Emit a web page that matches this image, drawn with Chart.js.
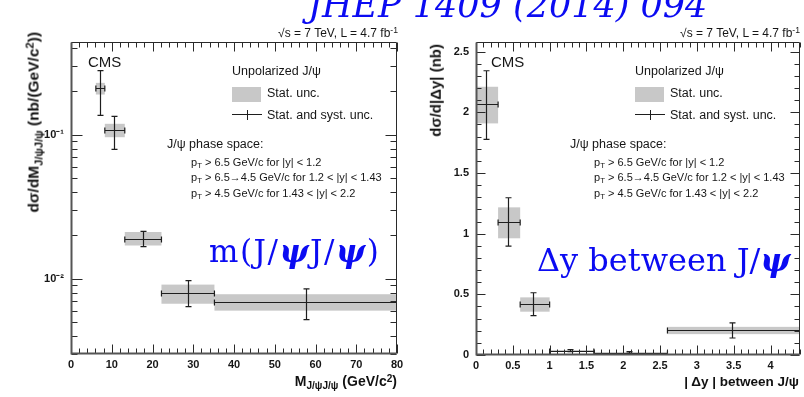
<!DOCTYPE html>
<html>
<head>
<meta charset="utf-8">
<script src="https://cdn.jsdelivr.net/npm/chart.js@4/dist/chart.umd.min.js"></script>
<style>
  body { margin: 0; background: #fff; }
  #page { position: relative; width: 804px; height: 397px; overflow: hidden; background: #fff;
          font-family: "Liberation Sans", Arial, sans-serif; color: #161616; }
  canvas { position: absolute; top: 0; }
  .t { position: absolute; white-space: nowrap; line-height: 1; }
  .t sub, .t sup { font-size: 72%; line-height: 0; position: relative; vertical-align: baseline; }
  .t sup { top: -0.45em; }
  .t sub { top: 0.32em; }
  .axis { font-weight: bold; color: #111; }
  .blue { font-family: "DejaVu Serif", "Liberation Serif", serif; color: #0b0bf2; }
  .ytitle { position: absolute; width: 0; height: 0; }
  .ytitle span { position: absolute; right: 0; top: -8px; line-height: 16px; white-space: nowrap;
                 transform-origin: 100% 50%; transform: rotate(-90deg); }
  .box { position: absolute; background: #c8c8c8; }
  .bar { position: absolute; background: #1e1e1e; }
</style>
</head>
<body>
<div id="page">
  <canvas id="massChart" width="410" height="397" style="left:0"></canvas>
  <canvas id="dyChart" width="402" height="397" style="left:402px"></canvas>
</div>
<script>
// ---- d(sigma)/dM for the J/psi pair (log scale), bins in GeV/c^2
const massLo      = [6.1, 8.3, 13.2, 22.2, 35.2];
const massHi      = [8.3, 13.2, 22.2, 35.2, 80];
const massCenter  = [7.1, 10.6, 17.6, 28.6, 57.6];
const massXsec    = [0.21, 0.107, 0.019, 0.0080, 0.0069];
const massStatLo  = [0.19, 0.096, 0.017, 0.0067, 0.0060];
const massStatHi  = [0.229, 0.119, 0.0211, 0.0091, 0.0078];
const massTotLo   = [0.136, 0.079, 0.0167, 0.0064, 0.0052];
const massTotHi   = [0.278, 0.134, 0.0213, 0.0097, 0.0085];
const massXLabels = [0, 10, 20, 30, 40, 50, 60, 70, 80];
const massYMajor  = [0.01, 0.1];
const massYText   = ['10\u207B\u00B2', '10\u207B\u00B9'];

// ---- d(sigma)/d|dy| between the two J/psi, in nb
const dyLo     = [0, 0.3, 0.6, 1.0, 1.6, 2.6];
const dyHi     = [0.3, 0.6, 1.0, 1.6, 2.6, 4.4];
const dyCenter = [0.13, 0.43, 0.78, 1.28, 2.08, 3.48];
const dyXsec   = [2.066, 1.094, 0.418, 0.036, 0.02, 0.205];
const dyStatLo = [1.909, 0.962, 0.357, 0.031, 0.016, 0.172];
const dyStatHi = [2.211, 1.217, 0.475, 0.041, 0.024, 0.232];
const dyTotLo  = [1.778, 0.898, 0.324, 0.028, 0.013, 0.14];
const dyTotHi  = [2.343, 1.296, 0.513, 0.044, 0.027, 0.265];
const dyXLabels = ['0', '0.5', '1', '1.5', '2', '2.5', '3', '3.5', '4'];
const dyYLabels = ['0', '0.5', '1', '1.5', '2', '2.5'];

// minor tick positions
const massXTicks = Array.from({ length: 41 }, (_, i) => i * 2);
const massYTicks = [];
[3, 4, 5, 6, 7, 8, 9].forEach(k => massYTicks.push(k / 1000));
[1, 2, 3, 4, 5, 6, 7, 8, 9].forEach(k => massYTicks.push(k / 100));
[1, 2, 3, 4].forEach(k => massYTicks.push(k / 10));
const dyXTicks = Array.from({ length: 45 }, (_, i) => i / 10);
const dyYTicks = Array.from({ length: 26 }, (_, i) => i / 10);

function makeBins(lo, hi, cx, val, sLo, sHi, tLo, tHi) {
  return cx.map((c, i) => ({ x: c, y: val[i], lo: lo[i], hi: hi[i],
    statLo: sLo[i], statHi: sHi[i], totLo: tLo[i], totHi: tHi[i] }));
}

//.. grey stat boxes + crosses with end caps
const errorBins = {
  id: 'errorBins',
  afterDatasetsDraw(chart) {
    const { ctx, chartArea: a } = chart;
    const x = chart.scales.x, y = chart.scales.y;
    const pts = chart.data.datasets[0].data;
    ctx.save();
    ctx.beginPath();
    ctx.rect(a.left, a.top, a.right - a.left, a.bottom - a.top);
    ctx.clip();
    ctx.fillStyle = '#c8c8c8';
    pts.forEach(p => {
      const x0 = x.getPixelForValue(p.lo), x1 = x.getPixelForValue(p.hi);
      const y0 = y.getPixelForValue(p.statHi), y1 = y.getPixelForValue(p.statLo);
      ctx.fillRect(x0, y0, x1 - x0, y1 - y0);
    });
    ctx.strokeStyle = '#1e1e1e';
    ctx.lineWidth = 1.2;
    ctx.beginPath();
    pts.forEach(p => {
      const cx = Math.round(x.getPixelForValue(p.x)) + 0.5;
      const cy = Math.round(y.getPixelForValue(p.y)) + 0.5;
      const x0 = x.getPixelForValue(p.lo), x1 = x.getPixelForValue(p.hi);
      const yt = y.getPixelForValue(p.totHi), yb = y.getPixelForValue(p.totLo);
      ctx.moveTo(x0, cy); ctx.lineTo(x1, cy);
      ctx.moveTo(x0, cy - 3); ctx.lineTo(x0, cy + 3);
      ctx.moveTo(x1, cy - 3); ctx.lineTo(x1, cy + 3);
      ctx.moveTo(cx, yt); ctx.lineTo(cx, yb);
      ctx.moveTo(cx - 3, yt); ctx.lineTo(cx + 3, yt);
      ctx.moveTo(cx - 3, yb); ctx.lineTo(cx + 3, yb);
    });
    ctx.stroke();
    ctx.restore();
  }
};

//.. ROOT style frame, ticks pointing inwards on all four sides
const rootFrame = {
  id: 'rootFrame',
  afterDraw(chart, args, opts) {
    const { ctx, chartArea: a } = chart;
    const x = chart.scales.x, y = chart.scales.y;
    const L = Math.round(a.left) + 0.5, R = Math.round(a.right) - 0.5;
    const T = Math.round(a.top) + 0.5, B = Math.round(a.bottom) - 0.5;
    ctx.save();
    ctx.strokeStyle = '#2a2a2a';
    ctx.lineWidth = 1;
    ctx.beginPath();
    x.ticks.forEach(t => {
      const px = Math.round(x.getPixelForValue(t.value)) + 0.5;
      const len = t.label ? opts.xMajor : opts.xMinor;
      ctx.moveTo(px, B); ctx.lineTo(px, B - len);
      ctx.moveTo(px, T); ctx.lineTo(px, T + len);
    });
    y.ticks.forEach(t => {
      const py = Math.round(y.getPixelForValue(t.value)) + 0.5;
      const len = t.label ? opts.yMajor : opts.yMinor;
      ctx.moveTo(L, py); ctx.lineTo(L + len, py);
      ctx.moveTo(R, py); ctx.lineTo(R - len, py);
    });
    ctx.moveTo(L, T); ctx.lineTo(R, T); ctx.lineTo(R, B);
    ctx.stroke();
    // left and bottom axes a bit heavier
    ctx.strokeStyle = '#555';
    ctx.lineWidth = 2;
    ctx.beginPath();
    ctx.moveTo(L, T); ctx.lineTo(L, B); ctx.lineTo(R, B);
    ctx.stroke();
    ctx.restore();
  }
};

const tickFont = { family: 'Liberation Sans', size: 11, weight: 'bold' };

function axisBase(extra) {
  return Object.assign({
    grid: { display: false, drawTicks: false },
    border: { display: false }
  }, extra);
}

function histChart(id, bins, cfg) {
  return new Chart(document.getElementById(id), {
    type: 'scatter',
    data: { datasets: [{ data: bins, pointRadius: 0, showLine: false }] },
    options: {
      responsive: false,
      animation: false,
      layout: { padding: { top: 42, right: cfg.padRight, left: 0, bottom: 0 } },
      plugins: {
        legend: { display: false },
        tooltip: { enabled: false },
        rootFrame: cfg.tickLen
      },
      scales: {
        x: axisBase({
          type: 'linear', min: cfg.xMin, max: cfg.xMax,
          afterBuildTicks: s => { s.ticks = cfg.xTicks.map(v => ({ value: v })); },
          ticks: { autoSkip: false, maxRotation: 0, padding: 4, font: tickFont, color: '#161616',
                   callback: cfg.xLabel },
          afterFit: s => { s.height = cfg.xHeight; s.paddingLeft = 0; s.paddingRight = 0; }
        }),
        y: axisBase({
          type: cfg.yType, min: cfg.yMin, max: cfg.yMax,
          afterBuildTicks: s => { s.ticks = cfg.yTicks.map(v => ({ value: v })); },
          ticks: { autoSkip: false, padding: 7, font: tickFont, color: '#161616',
                   callback: cfg.yLabel },
          afterFit: s => { s.width = cfg.yWidth; s.paddingTop = 0; s.paddingBottom = 0; }
        })
      }
    },
    plugins: [errorBins, rootFrame]
  });
}

histChart('massChart',
  makeBins(massLo, massHi, massCenter, massXsec, massStatLo, massStatHi, massTotLo, massTotHi), {
  padRight: 13, xHeight: 43, yWidth: 71,
  xMin: 0, xMax: 80, xTicks: massXTicks,
  xLabel: v => massXLabels.includes(v) ? String(v) : '',
  yType: 'logarithmic', yMin: 0.003, yMax: 0.44, yTicks: massYTicks,
  yLabel: v => { const i = massYMajor.indexOf(v); return i >= 0 ? massYText[i] : ''; },
  tickLen: { xMajor: 9, xMinor: 5, yMajor: 11, yMinor: 6 }
});

histChart('dyChart',
  makeBins(dyLo, dyHi, dyCenter, dyXsec, dyStatLo, dyStatHi, dyTotLo, dyTotHi), {
  padRight: 4, xHeight: 42, yWidth: 74,
  xMin: 0, xMax: 4.4, xTicks: dyXTicks,
  xLabel: (v, i) => i % 5 === 0 ? dyXLabels[i / 5] : '',
  yType: 'linear', yMin: 0, yMax: 2.58, yTicks: dyYTicks,
  yLabel: (v, i) => i % 5 === 0 ? dyYLabels[i / 5] : '',
  tickLen: { xMajor: 9, xMinor: 5, yMajor: 9, yMinor: 5 }
});

//.. text on top of the canvases (x = left edge or right edge, base = baseline)
const page = document.getElementById('page');
function text(html, x, base, size, opt) {
  opt = opt || {};
  const d = document.createElement('div');
  d.className = 't' + (opt.cls ? ' ' + opt.cls : '');
  d.style.fontSize = size + 'px';
  d.style.top = (base - 0.85 * size) + 'px';
  if (opt.right) d.style.right = (804 - x) + 'px'; else d.style.left = x + 'px';
  if (opt.italic) d.style.fontStyle = 'italic';
  if (opt.spacing) d.style.letterSpacing = opt.spacing + 'px';
  d.innerHTML = html;
  page.appendChild(d);
}
function yTitle(html, x, topEnd, size) {
  const d = document.createElement('div');
  d.className = 'ytitle';
  d.style.left = x + 'px';
  d.style.top = topEnd + 'px';
  d.innerHTML = '<span class="t axis" style="font-size:' + size + 'px">' + html + '</span>';
  page.appendChild(d);
}
function rect(cls, x, y, w, h) {
  const d = document.createElement('div');
  d.className = cls;
  Object.assign(d.style, { left: x + 'px', top: y + 'px', width: w + 'px', height: h + 'px' });
  page.appendChild(d);
}

const psi = 'J/\u03C8';
const lumi = '\u221As = 7 TeV, L = 4.7 fb<sup>-1</sup>';
const phase = [
  'p<sub>T</sub> &gt; 6.5 GeV/c for |y| &lt; 1.2',
  'p<sub>T</sub> &gt; 6.5\u21924.5 GeV/c for 1.2 &lt; |y| &lt; 1.43',
  'p<sub>T</sub> &gt; 4.5 GeV/c for 1.43 &lt; |y| &lt; 2.2'
];

[0, 403].forEach((dx, k) => {
  text(lumi, k ? 800 : 398, 37, 12, { right: true });
  text('CMS', 88 + dx, 67, 15);
  text('Unpolarized ' + psi, 232 + dx, 76, 12.5);
  rect('box', 232 + dx, 87, 29, 15);
  text('Stat. unc.', 267 + dx, 98, 12.5);
  rect('bar', 232 + dx, 114, 30, 1.3);
  rect('bar', 246.5 + dx, 110, 1.3, 10);
  text('Stat. and syst. unc.', 267 + dx, 120, 12.5);
  text(psi + ' phase space:', 167 + dx, 149, 12.5);
  phase.forEach((s, i) => text(s, 191 + dx, [166, 181, 197][i], 11));
});

yTitle('d\u03C3/dM<sub>J/\u03C8J/\u03C8</sub> (nb/(GeV/c<sup>2</sup>))', 34, 32, 15.5);
yTitle('d\u03C3/d|\u0394y| (nb)', 436, 44, 15);
text('M<sub>J/\u03C8J/\u03C8</sub> (GeV/c<sup>2</sup>)', 397, 386, 14, { right: true, cls: 'axis' });
text('| \u0394y | between ' + psi, 799, 386, 13.5, { right: true, cls: 'axis' });

text('JHEP 1409 (2014) 094', 308, 18, 35, { cls: 'blue', italic: true });
text('m(J/<b><i>\u03C8</i></b>J/<b><i>\u03C8</i></b>)', 209, 262, 31, { cls: 'blue', spacing: 1.5 });
text('\u0394y between J/<b><i>\u03C8</i></b>', 537, 271, 32, { cls: 'blue' });
</script>
</body>
</html>
